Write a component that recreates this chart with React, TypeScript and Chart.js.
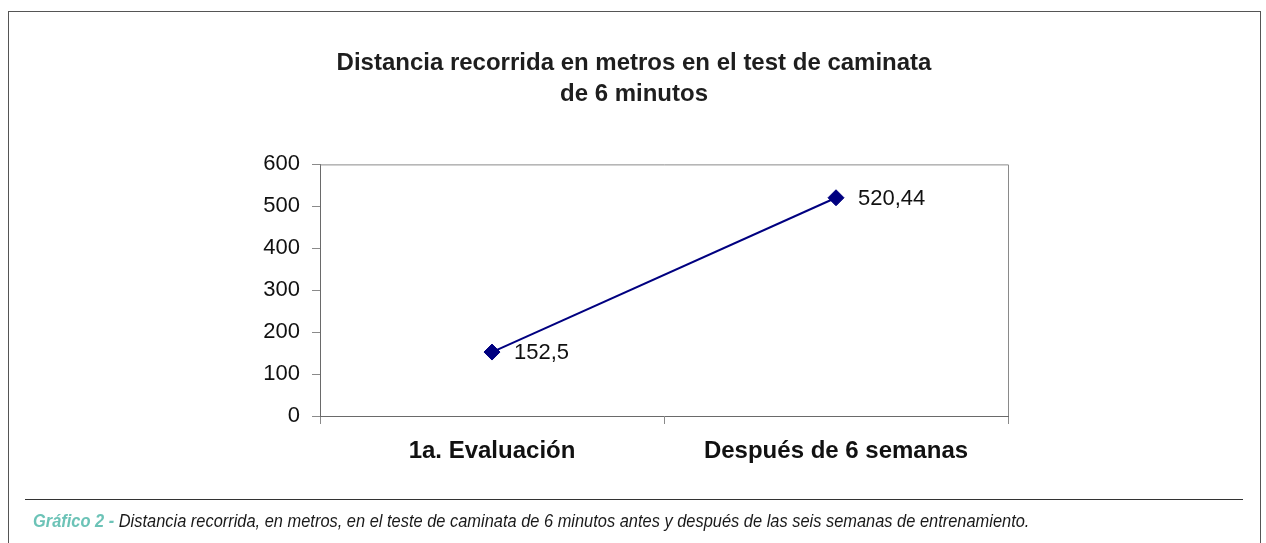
import React, { useEffect, useRef } from "react";
import { Chart, registerables } from "chart.js";

Chart.register(...registerables);

const categories = ["1a. Evaluación", "Después de 6 semanas"];
const distances = [152.5, 520.44];
const distanceLabels = ["152,5", "520,44"];
const yMin = 0;
const yMax = 600;
const yStep = 100;
const titleLines = ["Distancia recorrida en metros en el test de caminata", "de 6 minutos"];
const captionLead = "Gráfico 2 -";
const captionText =
  " Distancia recorrida, en metros, en el teste de caminata de 6 minutos antes y después de las seis semanas de entrenamiento.";

const FONT = "'Liberation Sans', Arial, sans-serif";

const plotBorder = {
  id: "plotBorder",
  afterDraw(chart: any) {
    const { ctx, chartArea } = chart;
    ctx.save();
    ctx.strokeStyle = "#8a8a8a";
    ctx.lineWidth = 1;
    ctx.beginPath();
    ctx.moveTo(chartArea.left, chartArea.top + 0.5);
    ctx.lineTo(chartArea.right + 0.5, chartArea.top + 0.5);
    ctx.lineTo(chartArea.right + 0.5, chartArea.bottom);
    ctx.stroke();
    ctx.restore();
  },
};

const pointLabels = {
  id: "pointLabels",
  afterDatasetsDraw(chart: any) {
    const { ctx } = chart;
    const meta = chart.getDatasetMeta(0);
    ctx.save();
    ctx.font = `22px ${FONT}`;
    ctx.fillStyle = "#111";
    ctx.textAlign = "left";
    ctx.textBaseline = "middle";
    meta.data.forEach((pt: any, i: number) => {
      ctx.fillText(distanceLabels[i], pt.x + 22, pt.y + 1);
    });
    ctx.restore();
  },
};

export default function App() {
  const canvasRef = useRef<HTMLCanvasElement | null>(null);

  useEffect(() => {
    if (!canvasRef.current) return;
    const chart = new Chart(canvasRef.current, {
      type: "line",
      data: {
        labels: categories,
        datasets: [
          {
            data: distances,
            borderColor: "#000080",
            backgroundColor: "#000080",
            borderWidth: 2,
            pointStyle: "rectRot",
            pointRadius: 8,
            pointBorderWidth: 1,
            pointBackgroundColor: "#000080",
            pointBorderColor: "#000080",
            tension: 0,
            fill: false,
          },
        ],
      },
      options: {
        responsive: false,
        animation: false,
        layout: { padding: { left: 260, right: 258, top: 0, bottom: 0 } },
        plugins: {
          legend: { display: false },
          tooltip: { enabled: false },
          title: {
            display: true,
            text: titleLines,
            color: "#1e1e1e",
            font: { family: FONT, size: 24, weight: "bold", lineHeight: 1.3 },
            padding: { top: 48, bottom: 54 },
          },
        },
        scales: {
          x: {
            type: "category",
            offset: true,
            grid: {
              display: true,
              offset: true,
              drawOnChartArea: false,
              tickLength: 8,
              color: "#8a8a8a",
            },
            border: { display: true, color: "#6a6a6a", width: 1 },
            ticks: {
              color: "#111",
              padding: 13,
              font: { family: FONT, size: 24, weight: "bold" },
            },
            afterFit(scale: any) {
              scale.height = 127;
            },
          },
          y: {
            min: yMin,
            max: yMax,
            ticks: {
              stepSize: yStep,
              color: "#111",
              padding: 12,
              font: { family: FONT, size: 22 },
            },
            grid: {
              display: true,
              drawOnChartArea: false,
              tickLength: 8,
              color: "#8a8a8a",
            },
            border: { display: true, color: "#6a6a6a", width: 1 },
            afterFit(scale: any) {
              scale.width = 60;
            },
          },
        },
      },
      plugins: [plotBorder, pointLabels],
    });
    return () => chart.destroy();
  }, []);

  return (
    <div style={{ position: "absolute", left: 0, top: 0, width: 1266, height: 543, overflow: "hidden", background: "#fff" }}>
      <canvas
        ref={canvasRef}
        width={1266}
        height={543}
        style={{ position: "absolute", left: 0, top: 0, width: 1266, height: 543 }}
      />
      <div
        style={{
          position: "absolute",
          left: 8,
          top: 11,
          width: 1253,
          height: 600,
          borderTop: "1px solid #555",
          borderLeft: "1px solid #555",
          borderRight: "1px solid #555",
          boxSizing: "border-box",
          pointerEvents: "none",
        }}
      />
      <div style={{ position: "absolute", left: 25, top: 499, width: 1218, height: 0, borderTop: "1px solid #333" }} />
      <div
        style={{
          position: "absolute",
          left: 33,
          top: 510,
          fontFamily: FONT,
          fontStyle: "italic",
          fontSize: 18,
          color: "#1a1a1a",
          whiteSpace: "nowrap",
          lineHeight: "22px",
          transform: "scaleX(0.912)",
          transformOrigin: "left center",
        }}
      >
        <span style={{ color: "#6cc3b7", fontWeight: "bold" }}>{captionLead}</span>
        {captionText}
      </div>
    </div>
  );
}
